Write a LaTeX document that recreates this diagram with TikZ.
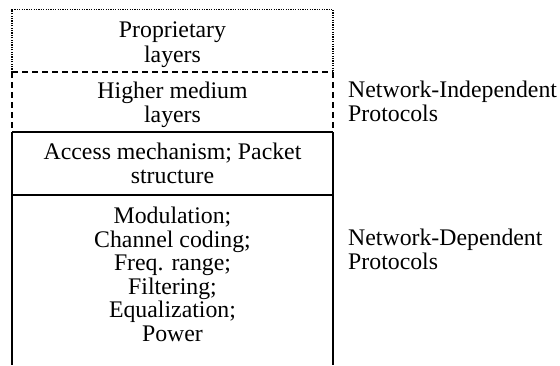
\documentclass[tikz,border=0pt]{standalone}
\usepackage{fontspec}
\setmainfont{Liberation Serif}
\begin{document}
\begin{tikzpicture}[x=1pt,y=-1pt,
  lbl/.style={align=center,inner sep=0pt,anchor=base,font=\fontsize{23.8}{23.5}\selectfont},
  side/.style={align=left,anchor=base west,inner sep=0pt,font=\fontsize{23.8}{23.5}\selectfont},
  solidln/.style={line width=1.6pt},
  dashln/.style={line width=1.6pt,dash pattern=on 6pt off 4pt},
  dotln/.style={line width=1.2pt,dash pattern=on 1.2pt off 1.2pt}]
\useasboundingbox (0,0) rectangle (560,365);
\coordinate (tl) at (12,9.5);
\coordinate (tr) at (333,9.5);
\coordinate (dl) at (12,72);
\coordinate (dr) at (333,72);
\coordinate (sl) at (12,132);
\coordinate (sr) at (333,132);
\coordinate (ml) at (12,195);
\coordinate (mr) at (333,195);
\coordinate (bl) at (12,365);
\coordinate (br) at (333,365);
\draw[dotln] (dl) -- (tl) -- (tr) -- (dr);
\draw[dashln] (dl) -- (dr);
\draw[dashln] (dl) -- (sl);
\draw[dashln] (dr) -- (sr);
\draw[solidln] (sl) -- (sr);
\draw[solidln] (ml) -- (mr);
\draw[solidln] (sl) -- (bl);
\draw[solidln] (sr) -- (br);
\node[lbl] (prop) at (172.5,62) {Proprietary\\[1pt]layers};
\node[lbl] (higher) at (172.5,122) {Higher medium\\[0.5pt]layers};
\node[lbl] (access) at (172.5,183) {Access mechanism; Packet\\structure};
\node[lbl] (phys) at (172.5,341) {Modulation;\\Channel coding;\\Freq. range;\\Filtering;\\Equalization;\\Power};
\node[side] (indep) at (348,121) {Network-Independent\\[0.5pt]Protocols};
\node[side] (dep) at (348,269.5) {Network-Dependent\\[0.5pt]Protocols};
\end{tikzpicture}
\end{document}
